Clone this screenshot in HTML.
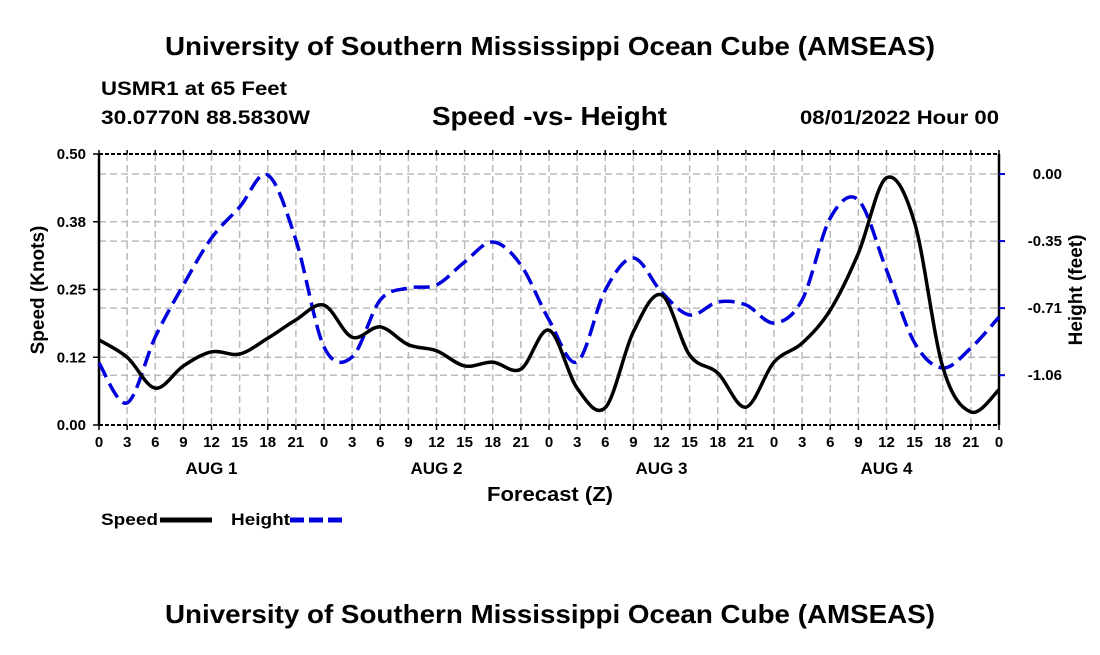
<!DOCTYPE html>
<html><head><meta charset="utf-8"><style>
body{margin:0;background:#fff;}
svg text{font-family:"Liberation Sans",Arial,sans-serif;font-weight:bold;fill:#000;}
</style></head><body>
<svg width="1100" height="650" viewBox="0 0 1100 650">
<text x="165" y="55" font-size="26" textLength="770" lengthAdjust="spacingAndGlyphs">University of Southern Mississippi Ocean Cube (AMSEAS)</text>
<text x="101" y="95" font-size="19" textLength="186" lengthAdjust="spacingAndGlyphs">USMR1 at 65 Feet</text>
<text x="101" y="124" font-size="19" textLength="209" lengthAdjust="spacingAndGlyphs">30.0770N  88.5830W</text>
<text x="432" y="125" font-size="26" textLength="235" lengthAdjust="spacingAndGlyphs">Speed -vs- Height</text>
<text x="800" y="124" font-size="19" textLength="199" lengthAdjust="spacingAndGlyphs">08/01/2022 Hour 00</text>
<g id="grid"></g>
<g id="axes"></g>
<g id="series"></g>
<text x="487" y="501" font-size="20" textLength="126" lengthAdjust="spacingAndGlyphs">Forecast (Z)</text>
<text transform="translate(44,290) rotate(-90)" font-size="19" text-anchor="middle">Speed (Knots)</text>
<text transform="translate(1082,290) rotate(-90)" font-size="19" text-anchor="middle">Height (feet)</text>
<g>
<text x="101" y="525" font-size="17" textLength="57" lengthAdjust="spacingAndGlyphs">Speed</text>
<line x1="160" y1="520" x2="212" y2="520" stroke="#000" stroke-width="5"/>
</g>
<g>
<text x="231" y="525" font-size="17" textLength="59" lengthAdjust="spacingAndGlyphs">Height</text>
<line x1="290" y1="520" x2="342" y2="520" stroke="#0000dd" stroke-width="5" stroke-dasharray="14,5"/>
</g>
<text x="165" y="623" font-size="26" textLength="770" lengthAdjust="spacingAndGlyphs">University of Southern Mississippi Ocean Cube (AMSEAS)</text>
</svg>
<script>
const hours = [0,3,6,9,12,15,18,21,24,27,30,33,36,39,42,45,48,51,54,57,60,63,66,69,72,75,78,81,84,87,90,93,96];
const speedValues = [0.157,0.125,0.068,0.109,0.135,0.131,0.16,0.194,0.221,0.162,0.181,0.148,0.137,0.109,0.116,0.103,0.175,0.068,0.032,0.172,0.24,0.129,0.096,0.033,0.116,0.151,0.212,0.317,0.456,0.373,0.107,0.024,0.065];
const heightValues = [-0.995,-1.205,-0.858,-0.584,-0.337,-0.174,-0.005,-0.347,-0.91,-0.963,-0.663,-0.6,-0.584,-0.463,-0.358,-0.479,-0.768,-0.989,-0.611,-0.442,-0.621,-0.742,-0.674,-0.689,-0.784,-0.663,-0.232,-0.137,-0.505,-0.889,-1.021,-0.916,-0.753];
const speedTicks = [0,0.125,0.25,0.375,0.5];
const speedTickLabels = ["0.00","0.12","0.25","0.38","0.50"];
const heightTicks = [0,-0.353,-0.706,-1.059];
const heightTickLabels = ["0.00","-0.35","-0.71","-1.06"];
const hourTickLabels = ["0","3","6","9","12","15","18","21"];
const dayLabels = ["AUG 1","AUG 2","AUG 3","AUG 4"];

const L=99,R=999,T=154,B=425;
const NS="http://www.w3.org/2000/svg";
const xS=h=>L+(R-L)*h/96;
const yS=v=>B-(B-T)*v/0.5;
const yH=v=>174-v*190;
function mk(tag,attrs,parent,text){const e=document.createElementNS(NS,tag);for(const k in attrs)e.setAttribute(k,attrs[k]);if(text!==undefined)e.textContent=text;parent.appendChild(e);return e;}
const grid=document.getElementById('grid'),axes=document.getElementById('axes'),series=document.getElementById('series');
for(let h=3;h<96;h+=3){const g=mk('line',{x1:xS(h),x2:xS(h),y1:T,y2:B,stroke:'#bbb','stroke-width':1.5,'stroke-dasharray':'7,4'},grid);

}
speedTicks.slice(1,4).forEach(v=>{const g=mk('line',{x1:L,x2:R,y1:yS(v),y2:yS(v),stroke:'#bbb','stroke-width':1.5,'stroke-dasharray':'7,4'},grid);

});
heightTicks.forEach(v=>{const g=mk('line',{x1:L,x2:R,y1:yH(v),y2:yH(v),stroke:'#bbb','stroke-width':1.5,'stroke-dasharray':'7,4'},grid);

});
mk('line',{x1:L,x2:L,y1:T,y2:B,stroke:'#000','stroke-width':2.5},axes);
mk('line',{x1:R,x2:R,y1:T,y2:B,stroke:'#000','stroke-width':2.5},axes);
mk('line',{x1:L,x2:R,y1:B,y2:B,stroke:'#000','stroke-width':2,'stroke-dasharray':'4,2'},axes);
mk('line',{x1:L,x2:R,y1:T,y2:T,stroke:'#000','stroke-width':2,'stroke-dasharray':'4,2'},axes);
for(let h=0;h<=96;h+=3){
 mk('line',{x1:xS(h),x2:xS(h),y1:B,y2:B+5,stroke:'#000','stroke-width':1.5},axes);
 mk('line',{x1:xS(h),x2:xS(h),y1:T,y2:T-4,stroke:'#000','stroke-width':1.5},axes);
 const t=mk('text',{x:xS(h),y:447,'font-size':15,'text-anchor':'middle'},axes,h%24===0?"0":hourTickLabels[(h%24)/3]);
 
 
}
dayLabels.forEach((d,i)=>{const t=mk('text',{x:xS(i*24+12),y:474,'font-size':17,'text-anchor':'middle'},axes,d);

});
speedTicks.forEach((v,i)=>{mk('line',{x1:L-6,x2:L,y1:yS(v),y2:yS(v),stroke:'#000','stroke-width':1.5},axes);
const t=mk('text',{x:L-13,y:yS(v)+5,'font-size':15,'text-anchor':'end'},axes,speedTickLabels[i]);

});
heightTicks.forEach((v,i)=>{mk('line',{x1:R,x2:R+6,y1:yH(v),y2:yH(v),stroke:'#0000dd','stroke-width':2},axes);
const t=mk('text',{x:R+63,y:yH(v)+5,'font-size':15,'text-anchor':'end'},axes,heightTickLabels[i]);

});
function smooth(xs,ys){let d=`M${xs[0]},${ys[0]}`;for(let i=0;i<xs.length-1;i++){const p0=i?i-1:i,p3=i+2<xs.length?i+2:i+1;
const c1x=xs[i]+(xs[i+1]-xs[p0])/6,c1y=ys[i]+(ys[i+1]-ys[p0])/6,c2x=xs[i+1]-(xs[p3]-xs[i])/6,c2y=ys[i+1]-(ys[p3]-ys[i])/6;
d+=` C${c1x},${c1y} ${c2x},${c2y} ${xs[i+1]},${ys[i+1]}`;}return d;}
const xs=hours.map(xS);
const hp=mk('path',{d:smooth(xs,heightValues.map(yH)),fill:'none',stroke:'#0000dd','stroke-width':3.5,'stroke-dasharray':'16,7'},series);


const sp=mk('path',{d:smooth(xs,speedValues.map(yS)),fill:'none',stroke:'#000','stroke-width':3.5},series);


</script>
</body></html>
